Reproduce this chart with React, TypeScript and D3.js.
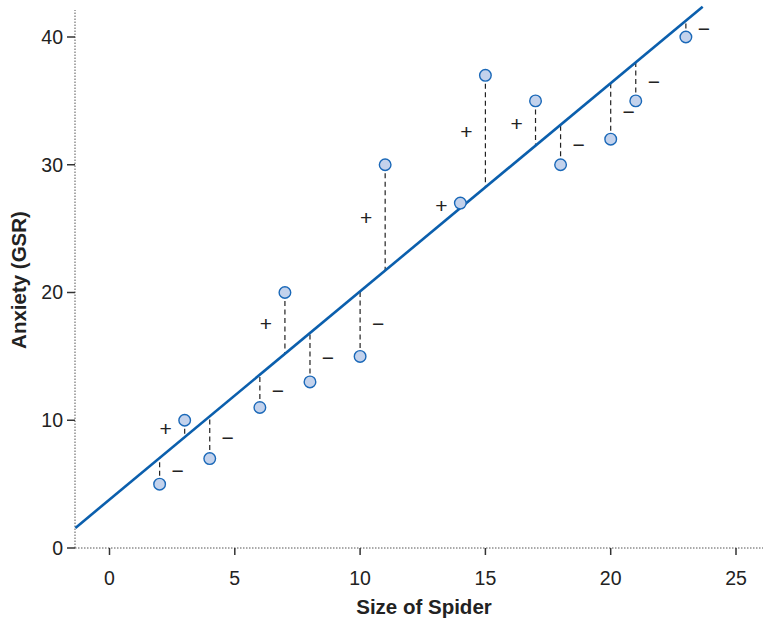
import React from "react";
import * as d3 from "d3";

const spiderSize = [2, 3, 4, 6, 7, 8, 10, 11, 14, 15, 17, 18, 20, 21, 23];
const anxiety = [5, 10, 7, 11, 20, 13, 15, 30, 27, 37, 35, 30, 32, 35, 40];
const xTicks = [0, 5, 10, 15, 20, 25];
const yTicks = [0, 10, 20, 30, 40];
const intercept = 3.79;
const slope = 1.63;
const lineDomain = [-1.36, 23.67];

export default function App() {
  const W = 763, H = 622;
  const x = d3.scaleLinear().domain([0, 25]).range([109.5, 736]);
  const y = d3.scaleLinear().domain([0, 40]).range([548, 37]);
  const x0 = x.invert(75);
  const xMax = x.invert(763);
  const yTop = y.invert(10);
  const fit = (v: number) => intercept + slope * v;
  const line = d3.line<number>().x((d) => x(d)).y((d) => y(fit(d)));
  const font = "'Liberation Sans', Arial, Helvetica, sans-serif";
  const axisColor = "#555";

  return (
    <svg width={W} height={H} style={{ position: "absolute", left: 0, top: 0 }} fontFamily={font}>
      {/* axes */}
      <line x1={x(x0)} x2={x(xMax)} y1={y(0)} y2={y(0)} stroke={axisColor} strokeWidth={1} strokeDasharray="1.5,1.5" />
      <line x1={x(x0)} x2={x(x0)} y1={y(0)} y2={y(yTop)} stroke={axisColor} strokeWidth={1} strokeDasharray="1.5,1.5" />
      {xTicks.map((t) => (
        <g key={"xt" + t}>
          <line x1={x(t)} x2={x(t)} y1={y(0)} y2={y(0) + 7} stroke="#333" strokeWidth={1.5} />
          <text x={x(t)} y={y(0) + 37} textAnchor="middle" fontSize={19.5} fill="#222">{t}</text>
        </g>
      ))}
      {yTicks.map((t) => (
        <g key={"yt" + t}>
          <line x1={x(x0) - 8} x2={x(x0)} y1={y(t)} y2={y(t)} stroke="#333" strokeWidth={1.5} />
          <text x={x(x0) - 12} y={y(t)} dy="0.35em" textAnchor="end" fontSize={19.5} fill="#222">{t}</text>
        </g>
      ))}
      <text x={424} y={614} textAnchor="middle" fontSize={20.5} fontWeight="bold" fill="#222">Size of Spider</text>
      <text transform={`translate(26,280) rotate(-90)`} textAnchor="middle" fontSize={20.5} fontWeight="bold" fill="#222">Anxiety (GSR)</text>

      {/* residuals */}
      {spiderSize.map((s, i) => (
        <line key={"r" + i} x1={x(s)} x2={x(s)} y1={y(anxiety[i])} y2={y(fit(s))} stroke="#222" strokeWidth={1.2} strokeDasharray="5,3.5" />
      ))}
      {/* regression line */}
      <path d={line(lineDomain) || ""} stroke="#0b5fad" strokeWidth={2.6} fill="none" />
      {/* signs */}
      {spiderSize.map((s, i) => {
        const pos = anxiety[i] > fit(s);
        const mid = (anxiety[i] + fit(s)) / 2;
        return (
          <text key={"s" + i} x={x(s) + (pos ? -19 : 18)} y={y(mid)} dy="0.35em" textAnchor="middle" fontSize={21} fill="#222">
            {pos ? "+" : "\u2212"}
          </text>
        );
      })}
      {/* points */}
      {spiderSize.map((s, i) => (
        <circle key={"p" + i} cx={x(s)} cy={y(anxiety[i])} r={5.8} fill="#c3d2ec" stroke="#1a68b8" strokeWidth={1.4} />
      ))}
    </svg>
  );
}
